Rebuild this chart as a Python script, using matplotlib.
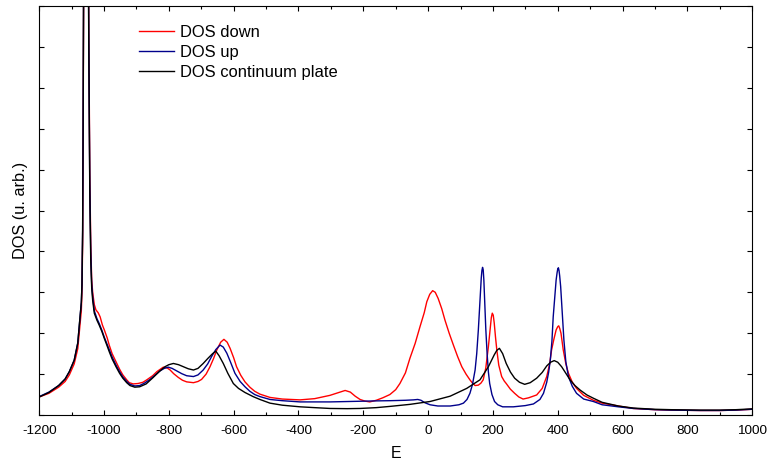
import matplotlib
matplotlib.use("Agg")
import matplotlib.pyplot as plt
from matplotlib.ticker import MultipleLocator

plt.rcParams['font.family'] = ['Liberation Sans', 'DejaVu Sans']
plt.rcParams['axes.unicode_minus'] = False

# --- data (E, DOS in arbitrary units; 1 unit = one y tick) ---
e_down = [-1200, -1170, -1140, -1120, -1107, -1092, -1081, -1074, -1070, -1068, -1066, -1064.5,
          -1063, -1060, -1056, -1052, -1049, -1047, -1044, -1041, -1038, -1035, -1030, -1025,
          -1018, -1012, -1005, -999, -990, -984, -975, -963, -952, -942, -930, -922, -910, -895,
          -880, -868, -850, -837, -817, -805, -796, -785, -771, -758, -745, -724, -710, -699,
          -685, -673, -662, -652, -640, -630, -620, -611, -600, -591, -578, -565, -550, -535,
          -519, -488, -450, -395, -350, -303, -280, -256, -240, -225, -210, -195, -180, -160,
          -140, -118, -100, -87, -70, -56, -40, -25, -12, -4, 5, 14, 22, 31, 42, 52, 65, 78,
          91, 104, 117, 129, 137, 145, 155, 163, 170, 178, 186, 192, 195, 198, 201, 204, 208,
          212, 218, 227, 235, 241, 254, 267, 280, 293, 310, 335, 352, 366, 375, 381, 388, 395,
          400, 403, 406, 410, 417, 425, 433, 445, 458, 480, 510, 537, 587, 633, 700, 750, 839,
          900, 950, 1000]
dos_down = [0.44, 0.53, 0.68, 0.82, 0.98, 1.25, 1.62, 2.2, 2.55, 3.0, 4.2, 6.6,
            10, 19.5, 30, 21, 13, 9.5, 6, 4.2, 3.3, 3.0, 2.7, 2.57,
            2.5, 2.4, 2.2, 2.08, 1.88, 1.71, 1.5, 1.3, 1.12, 0.98, 0.86, 0.79, 0.76, 0.77,
            0.8, 0.86, 0.96, 1.06, 1.17, 1.15, 1.1, 1.01, 0.92, 0.85, 0.81, 0.79, 0.82, 0.87,
            1.0, 1.18, 1.38, 1.59, 1.78, 1.85, 1.78, 1.63, 1.4, 1.18, 0.97, 0.81, 0.68, 0.58,
            0.51, 0.43, 0.39, 0.37, 0.4, 0.48, 0.54, 0.6, 0.56, 0.46, 0.38, 0.34, 0.32, 0.36,
            0.42, 0.5, 0.62, 0.77, 1.03, 1.39, 1.75, 2.16, 2.5, 2.77, 2.95, 3.04, 3.0, 2.85,
            2.6, 2.32, 2.0, 1.71, 1.43, 1.18, 1.0, 0.86, 0.78, 0.72, 0.73, 0.78, 0.86, 1.15,
            1.67, 2.15, 2.38, 2.49, 2.44, 2.25, 1.9, 1.59, 1.22, 0.94, 0.83, 0.77, 0.63, 0.53,
            0.44, 0.39, 0.42, 0.49, 0.65, 0.94, 1.25, 1.59, 1.85, 2.08, 2.16, 2.18, 2.12, 2.0,
            1.59, 1.25, 1.02, 0.8, 0.65, 0.48, 0.36, 0.29, 0.22, 0.16, 0.13, 0.12, 0.11, 0.11,
            0.12, 0.14]

e_up = [-1200, -1170, -1140, -1120, -1107, -1092, -1081, -1074, -1070, -1068, -1066, -1064.5,
        -1063, -1060, -1056, -1052, -1049, -1047, -1044, -1041, -1038, -1035, -1030, -1022,
        -1015, -1007, -999, -990, -984, -975, -963, -952, -942, -930, -920, -905, -890, -875,
        -858, -842, -827, -814, -802, -790, -776, -760, -745, -724, -710, -694, -680, -668,
        -655, -642, -632, -621, -610, -596, -580, -565, -550, -535, -519, -488, -450, -395,
        -350, -303, -250, -210, -160, -117, -70, -45, -32, -22, -10, 6, 30, 68, 95, 109, 120,
        129, 137, 145, 150, 155, 159, 162, 164, 166, 168, 170, 172, 175, 178, 182, 186, 190,
        197, 205, 215, 230, 263, 300, 325, 345, 356, 366, 372, 377, 382, 386, 391, 395, 398,
        400, 402, 404, 406, 409, 414, 419, 425, 433, 445, 458, 480, 510, 537, 587, 633, 700,
        750, 839, 900, 950, 1000]
dos_up = [0.45, 0.56, 0.72, 0.88, 1.06, 1.34, 1.76, 2.4, 2.75, 3.2, 4.5, 7,
          10.5, 20, 30, 20.5, 12.5, 9.2, 5.7, 4.0, 3.2, 2.9, 2.55, 2.36,
          2.24, 2.08, 1.9, 1.72, 1.6, 1.42, 1.22, 1.06, 0.93, 0.82, 0.75, 0.71, 0.72, 0.78,
          0.87, 0.98, 1.08, 1.14, 1.17, 1.14, 1.08, 1.01, 0.96, 0.94, 0.98, 1.1, 1.25, 1.43,
          1.6, 1.71, 1.66, 1.51, 1.3, 1.02, 0.82, 0.69, 0.58, 0.5, 0.45, 0.38, 0.35, 0.32,
          0.32, 0.32, 0.33, 0.34, 0.345, 0.35, 0.36, 0.37, 0.38, 0.36, 0.3, 0.25, 0.22, 0.22,
          0.25, 0.29, 0.38, 0.53, 0.75, 1.1, 1.5, 2.08, 2.65, 3.06, 3.35, 3.53, 3.61, 3.55,
          3.3, 2.73, 2.1, 1.51, 1.05, 0.77, 0.5, 0.33, 0.25, 0.2, 0.2, 0.23, 0.27, 0.38, 0.53,
          0.8, 1.05, 1.34, 1.8, 2.4, 2.9, 3.3, 3.48, 3.57, 3.6, 3.53, 3.4, 3.14, 2.5, 1.83,
          1.3, 0.94, 0.7, 0.53, 0.39, 0.33, 0.25, 0.2, 0.16, 0.13, 0.12, 0.11, 0.11, 0.12,
          0.14]

e_plate = [-1200, -1170, -1140, -1120, -1107, -1092, -1081, -1074, -1070, -1068, -1066, -1064.5,
           -1063, -1060, -1056, -1052, -1049, -1047, -1044, -1041, -1038, -1035, -1030, -1022,
           -1015, -1007, -999, -990, -984, -975, -963, -952, -942, -930, -920, -905, -890,
           -870, -848, -830, -812, -800, -786, -770, -755, -740, -724, -710, -694, -680, -665,
           -655, -645, -632, -618, -601, -585, -565, -540, -519, -488, -450, -395, -350, -303,
           -250, -210, -160, -118, -56, 6, 68, 119, 160, 186, 204, 212, 220, 230, 241, 254,
           267, 282, 298, 315, 335, 352, 366, 378, 389, 400, 412, 425, 438, 453, 469, 490, 510,
           537, 587, 633, 700, 750, 839, 900, 950, 1000]
dos_plate = [0.44, 0.55, 0.72, 0.88, 1.06, 1.34, 1.76, 2.4, 2.75, 3.2, 4.5, 7,
             10.5, 20, 30, 20, 12, 9, 5.5, 3.8, 3.1, 2.8, 2.49, 2.32,
             2.2, 2.05, 1.87, 1.68, 1.55, 1.37, 1.18, 1.02, 0.9, 0.79, 0.72, 0.68, 0.69,
             0.76, 0.92, 1.06, 1.18, 1.23, 1.26, 1.23, 1.18, 1.13, 1.1, 1.14, 1.26, 1.38, 1.5,
             1.56, 1.45, 1.26, 1.02, 0.77, 0.65, 0.55, 0.45, 0.38, 0.29, 0.24, 0.2, 0.18, 0.16,
             0.155, 0.16, 0.18, 0.21, 0.26, 0.33, 0.46, 0.65, 0.86, 1.18, 1.47, 1.58, 1.63, 1.5,
             1.26, 1.05, 0.9, 0.8, 0.75, 0.79, 0.9, 1.04, 1.2, 1.29, 1.33, 1.29, 1.18, 1.02,
             0.86, 0.72, 0.61, 0.49, 0.41, 0.31, 0.22, 0.17, 0.14, 0.13, 0.12, 0.12, 0.13, 0.15]

fig = plt.figure(figsize=(7.67, 4.63), dpi=100)
ax = fig.add_axes([39.2 / 767, 48 / 463, 713 / 767, 409 / 463])

ax.plot(e_down, dos_down, color='#ff0000', lw=1.0, label='DOS down')
ax.plot(e_up, dos_up, color='#00008b', lw=1.0, label='DOS up')
ax.plot(e_plate, dos_plate, color='black', lw=1.0, label='DOS continuum plate')

ax.set_xlim(-1200, 1000)
ax.set_ylim(0, 10)
ax.xaxis.set_major_locator(MultipleLocator(200))
ax.xaxis.set_minor_locator(MultipleLocator(100))
ax.yaxis.set_major_locator(MultipleLocator(1))
ax.set_yticklabels([])
ax.tick_params(which='both', direction='in', top=True, right=True, width=0.8,
               labelsize=9.7, pad=7)
ax.tick_params(which='major', length=3.5)
ax.tick_params(which='minor', length=2)

ax.set_xlabel('E', fontsize=11.5, labelpad=7)
ax.set_ylabel('DOS (u. arb.)', fontsize=11.8)
ax.yaxis.set_label_coords(-0.0157, 0.5)

ax.legend(loc='upper left', bbox_to_anchor=((139 - 39.2) / 713, 1 - 19 / 409),
          frameon=False, fontsize=11.9, handlelength=2.1, handletextpad=0.4,
          labelspacing=0.3, borderpad=0, borderaxespad=0)

fig.savefig('out.png', dpi=100)
